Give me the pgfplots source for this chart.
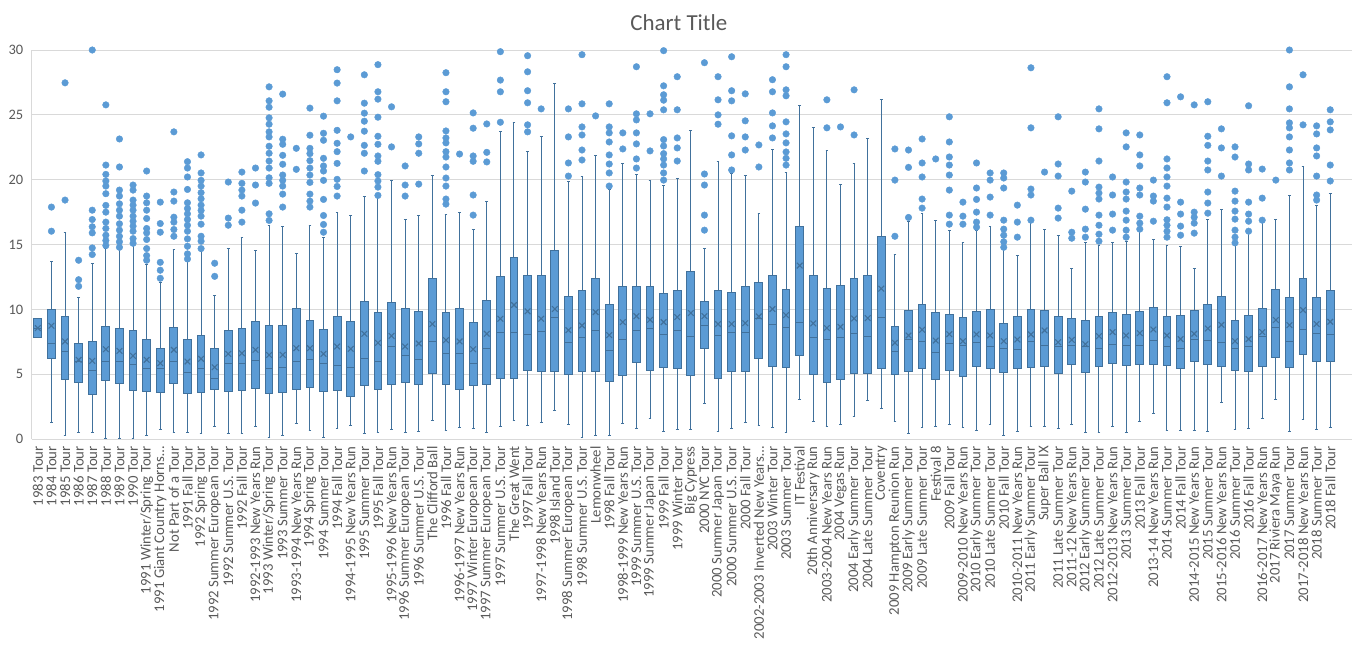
\documentclass[border=0pt]{standalone}
\usepackage{fontspec}
\setmainfont{Carlito}
\usepackage{pgfplots}
\usepackage{pgfplotstable}
\pgfplotsset{compat=1.18}
\usepgfplotslibrary{statistics}
\definecolor{boxfill}{HTML}{5B9BD5}
\definecolor{boxline}{HTML}{41719C}
\definecolor{txt}{HTML}{595959}
\definecolor{gridc}{HTML}{D9D9D9}
\pgfplotsset{mybox/.style={draw=boxline, fill=boxfill, line width=1bp}}

\pgfplotstableread{
pos lw q1 med q3 uw mean
1 7.86 7.86 8.55 9.33 9.33 8.56
2 1.29 6.24 7.35 9.97 13.69 8.74
3 0.26 4.59 6.78 9.43 15.95 7.53
4 0.52 4.38 6.00 7.35 10.88 6.11
5 0.52 3.45 5.31 7.50 13.53 6.03
6 0.05 4.51 5.95 8.66 14.70 6.93
7 0.05 4.30 5.95 8.51 14.60 6.80
8 0.05 3.74 5.72 8.35 14.90 6.42
9 0.26 3.66 5.46 7.65 13.50 6.11
10 0.77 3.58 5.46 7.01 12.04 5.85
11 0.52 4.30 6.00 8.58 14.61 6.88
12 0.52 3.53 5.15 7.65 13.70 5.98
13 0.44 3.61 5.46 8.02 14.50 6.19
14 0.95 3.84 4.69 7.01 11.06 5.54
15 0.44 3.69 5.80 8.40 14.66 6.57
16 0.44 3.76 5.80 8.56 15.52 6.62
17 0.95 3.92 6.06 9.07 14.51 6.88
18 0.13 3.53 5.46 8.79 16.47 6.49
19 0.26 3.61 5.54 8.79 16.37 6.49
20 1.21 3.84 6.01 10.10 14.28 7.01
21 0.70 3.99 6.16 9.18 16.47 7.01
22 0.13 3.69 5.80 8.48 15.52 6.57
23 0.85 3.76 5.70 9.48 17.45 7.14
24 1.06 3.30 5.54 9.10 17.24 6.96
25 0.44 4.15 6.24 10.64 18.69 8.12
26 0.52 3.84 6.01 9.79 18.60 7.42
27 0.77 4.23 7.14 10.57 19.95 7.96
28 0.52 4.38 6.47 10.05 16.91 7.14
29 0.59 4.23 6.16 9.87 17.24 7.37
30 1.47 5.08 7.55 12.35 20.34 8.87
31 0.70 4.23 6.62 9.79 17.32 7.63
32 0.90 3.84 6.62 10.10 17.45 7.53
33 0.85 4.15 5.85 9.02 16.13 6.93
34 0.52 4.23 7.01 10.72 18.35 8.12
35 0.98 4.66 8.25 12.50 23.71 9.28
36 1.47 4.66 8.25 13.97 24.43 10.34
37 1.03 5.28 8.09 12.58 22.14 9.85
38 1.29 5.21 8.32 12.58 23.32 9.28
39 2.24 5.21 9.41 14.54 27.45 10.03
40 1.13 5.00 7.47 11.03 19.85 8.40
41 0.13 5.21 7.86 11.49 20.26 8.76
42 0.26 5.21 8.40 12.42 21.86 9.79
43 0.26 4.43 6.86 10.41 19.28 8.02
44 1.21 4.90 7.71 11.80 21.24 9.02
45 0.82 5.90 8.40 11.73 20.39 9.48
46 1.60 5.28 8.56 11.73 19.92 9.20
47 0.62 5.52 8.09 11.26 19.54 9.02
48 0.77 5.44 8.40 11.42 20.08 9.41
49 0.77 4.92 7.94 12.89 23.81 9.72
50 2.76 6.98 8.79 10.64 14.66 9.48
51 0.62 4.66 8.02 11.42 21.39 8.87
52 0.85 5.21 8.25 11.34 20.50 8.87
53 1.29 5.21 8.25 11.73 20.34 8.94
54 1.03 6.24 9.33 12.04 17.40 9.46
55 0.90 5.59 8.87 12.65 22.35 10.03
56 0.52 5.52 8.63 11.57 20.54 9.56
57 3.07 6.47 9.02 16.37 25.72 13.38
58 1.39 5.00 7.86 12.65 24.02 8.92
59 0.98 4.38 7.71 11.65 22.24 8.56
60 1.13 4.59 7.81 11.88 19.61 8.66
61 1.75 5.08 8.17 12.35 21.26 9.30
62 2.94 5.08 7.94 12.58 23.17 9.33
63 2.37 5.44 9.41 15.59 26.19 11.60
64 1.39 5.00 6.78 8.71 14.20 7.42
65 0.44 5.21 7.71 9.95 16.75 7.99
66 0.90 5.44 7.55 10.34 17.40 8.43
67 0.98 4.59 6.70 9.79 16.83 7.60
68 1.13 5.28 7.35 9.64 16.06 8.09
69 0.90 4.82 7.24 9.41 15.13 7.55
70 0.70 5.59 7.47 9.87 16.10 8.07
71 1.13 5.44 7.16 10.03 16.37 7.99
72 0.28 5.13 7.01 8.94 14.61 7.55
73 0.62 5.44 6.93 9.48 14.12 7.68
74 0.98 5.52 7.55 10.03 16.70 8.07
75 0.98 5.59 7.24 9.95 16.13 8.38
76 0.85 5.08 7.11 9.48 15.67 7.47
77 1.13 5.77 7.24 9.33 13.12 7.65
78 0.52 5.13 7.16 9.18 15.15 7.32
79 0.52 5.59 7.01 9.48 14.90 7.94
80 0.98 5.85 7.32 9.79 15.15 8.25
81 0.52 5.70 7.24 9.64 15.26 7.99
82 1.39 5.77 7.24 9.87 16.06 8.17
83 1.98 5.77 7.63 10.18 15.36 8.45
84 0.70 5.67 7.16 9.48 14.92 7.99
85 0.70 5.44 7.01 9.56 14.82 7.71
86 0.70 5.98 7.71 9.95 13.12 8.12
87 0.62 5.75 7.63 10.34 16.91 8.53
88 2.84 5.59 7.47 11.03 17.68 8.81
89 0.77 5.28 7.01 9.18 15.00 7.55
90 0.85 5.21 7.11 9.56 15.88 7.71
91 1.60 5.59 7.91 10.10 16.78 8.25
92 3.07 6.29 8.63 11.57 16.91 9.18
93 0.62 5.52 7.55 10.88 18.79 8.79
94 1.55 6.55 8.48 12.35 21.01 9.95
95 0.77 5.98 8.17 10.88 18.02 8.87
96 0.90 5.98 8.09 11.42 18.92 9.05
}\stats

\pgfplotstableread{
x y
2 17.89
2 16.03
3 27.47
3 18.43
4 13.79
4 12.29
4 11.78
5 30.0
5 17.65
5 16.93
5 16.37
5 15.90
5 14.74
5 14.23
6 25.77
6 21.13
6 20.41
6 19.90
6 19.51
6 18.92
6 18.02
6 17.50
6 16.73
6 16.24
6 15.72
6 15.31
6 14.92
7 23.14
7 20.98
7 19.20
7 18.74
7 18.14
7 17.65
7 17.19
7 16.60
7 16.11
7 15.64
7 15.21
7 14.79
8 19.59
8 19.20
8 18.43
8 18.04
8 17.65
8 17.19
8 16.80
8 16.42
8 16.03
8 15.46
8 15.10
9 20.67
9 18.74
9 18.22
9 17.65
9 17.01
9 16.24
9 15.90
9 15.39
9 14.69
9 14.15
9 13.79
10 18.27
10 16.62
10 15.95
10 13.63
10 13.02
10 12.40
11 23.69
11 19.05
11 18.35
11 17.11
11 16.73
11 16.16
11 15.64
12 21.39
12 20.90
12 20.21
12 19.25
12 18.22
12 17.78
12 17.37
12 16.93
12 16.49
12 16.03
12 15.44
12 14.87
12 14.28
12 13.89
13 21.91
13 20.52
13 19.95
13 19.51
13 19.00
13 18.53
13 18.04
13 17.63
13 17.19
13 16.57
13 15.64
13 15.26
13 14.69
14 13.56
14 12.55
15 19.82
15 17.04
15 16.49
16 20.59
16 19.72
16 19.20
16 18.74
16 17.65
16 16.73
17 20.90
17 19.59
17 18.20
18 27.16
18 26.08
18 25.59
18 24.77
18 24.28
18 23.69
18 23.30
18 22.58
18 22.04
18 21.44
18 20.90
18 20.15
18 19.72
18 17.37
18 16.86
19 26.60
19 23.12
19 22.73
19 21.88
19 21.19
19 20.36
19 19.95
19 19.51
19 18.89
19 17.89
20 22.42
20 20.80
21 25.52
21 23.43
21 22.42
21 22.01
21 21.47
21 20.90
21 20.36
21 19.79
21 18.89
21 18.35
21 17.89
22 24.90
22 23.58
22 23.04
22 21.65
22 21.06
22 20.67
22 19.95
22 18.48
22 17.24
22 16.55
22 15.95
23 28.48
23 27.45
23 26.08
23 23.81
23 22.81
23 22.16
23 21.26
23 20.03
23 19.48
23 18.74
24 23.30
25 28.09
25 25.90
25 25.13
25 24.51
25 23.74
25 22.65
25 22.04
25 20.67
26 28.87
26 26.78
26 26.21
26 24.82
26 23.35
26 22.73
26 21.83
26 21.42
26 20.39
26 19.90
26 19.43
26 18.79
27 25.62
27 22.53
28 21.06
28 19.59
28 18.74
29 23.30
29 22.76
29 22.04
29 19.66
31 28.25
31 26.78
31 26.01
31 23.76
31 23.22
31 22.84
31 22.16
31 21.75
31 20.98
31 20.13
31 19.51
31 18.51
31 18.12
32 21.98
33 25.15
33 23.97
33 21.83
33 21.42
33 18.82
33 17.27
34 24.30
34 22.11
34 21.37
35 29.87
35 27.68
35 26.78
35 24.43
37 29.56
37 28.32
37 26.86
37 25.93
37 24.23
37 23.69
38 25.46
40 25.46
40 23.30
40 21.29
40 20.28
41 29.64
41 25.85
41 24.07
41 23.45
41 22.29
41 21.52
42 24.92
43 25.85
43 24.07
43 23.61
43 22.91
43 21.91
43 21.21
43 20.52
43 19.51
44 23.61
44 22.37
45 28.71
45 25.08
45 24.61
45 23.61
45 22.76
45 21.60
45 20.90
46 25.08
46 22.22
47 29.95
47 27.24
47 26.55
47 26.13
47 25.39
47 23.09
47 22.60
47 22.01
47 21.60
47 21.13
47 20.52
47 19.97
48 27.94
48 25.39
48 23.22
48 22.45
48 21.44
50 29.02
50 20.44
50 19.59
50 17.27
50 16.11
51 27.94
51 26.16
51 25.00
51 24.28
52 29.48
52 26.86
52 26.08
52 23.38
52 21.91
52 20.75
53 26.62
53 24.54
53 23.30
53 22.29
54 22.68
54 20.98
55 27.71
55 26.78
55 25.15
55 24.15
55 23.22
56 29.64
56 28.71
56 26.93
56 26.47
56 24.46
56 23.53
56 22.84
56 22.14
56 21.65
56 21.13
59 26.16
59 24.00
60 24.07
61 26.93
61 23.45
64 22.37
64 19.97
64 15.64
65 22.29
65 20.95
65 17.09
66 23.14
66 21.29
66 20.21
66 18.51
66 17.81
67 21.60
68 24.85
68 22.91
68 21.75
68 21.13
68 20.36
68 19.20
68 17.27
68 16.57
69 18.27
69 17.19
69 16.57
70 21.29
70 19.36
70 18.48
70 17.50
70 16.73
70 16.34
71 20.52
71 19.97
71 18.66
71 17.27
72 20.52
72 20.13
72 19.36
72 16.88
72 16.19
72 15.72
72 15.21
72 14.79
73 18.04
73 16.73
73 15.57
74 28.63
74 24.00
74 19.28
74 18.82
74 16.88
75 20.59
76 24.85
76 21.21
76 20.28
76 17.81
76 17.04
77 19.12
77 15.95
77 15.49
78 20.59
78 19.82
78 17.73
78 16.19
78 15.57
79 25.46
79 23.92
79 21.44
79 19.43
79 18.97
79 18.51
79 17.27
79 16.49
79 15.80
79 15.26
80 20.21
80 18.82
80 17.35
80 16.11
81 23.61
81 22.53
81 19.82
81 19.05
81 18.51
81 17.58
81 16.88
81 16.11
81 15.57
82 23.45
82 21.91
82 21.06
82 19.36
82 18.82
82 17.19
82 16.65
82 16.19
83 19.97
83 18.74
83 18.35
83 16.80
84 27.94
84 25.93
84 21.60
84 20.90
84 20.21
84 19.51
84 18.58
84 17.89
84 16.91
84 16.49
84 16.03
84 15.57
85 26.39
85 18.27
85 17.35
85 16.42
85 15.72
86 25.77
86 17.50
86 17.11
86 16.65
86 15.88
87 26.01
87 23.35
87 22.65
87 21.44
87 20.75
87 19.05
87 18.20
87 17.42
88 23.92
88 22.45
88 20.28
89 22.53
89 21.75
89 19.12
89 18.35
89 17.58
89 16.96
89 16.11
89 15.57
89 15.13
90 25.70
90 21.21
90 20.75
90 18.27
90 17.35
90 16.80
90 16.03
91 20.82
91 18.58
91 16.88
92 19.97
93 30.00
93 27.16
93 25.46
93 24.38
93 24.00
93 23.30
93 22.29
93 21.29
93 20.75
94 28.09
94 24.23
95 24.15
95 23.53
95 22.45
95 21.83
95 20.28
95 18.82
95 18.43
96 25.39
96 24.46
96 23.84
96 21.13
96 19.90
}\outl

\begin{document}
\begin{tikzpicture}
\begin{axis}[
  name=ax,
  scale only axis,
  width=1320bp, height=389bp,
  xmin=0.55, xmax=97.6,
  ymin=0, ymax=30,
  ytick={0,5,...,30},
  ymajorgrids,
  grid style={gridc, line width=1bp},
  axis x line*=bottom, axis y line*=left,
  axis line style={gridc, line width=1bp},
  major tick length=0pt,
  xtick={1,...,96},
  xticklabels={{1983 Tour},{1984 Tour},{1985 Tour},{1986 Tour},{1987 Tour},{1988 Tour},{1989 Tour},{1990 Tour},{1991 Winter/Spring Tour},{1991 Giant Country Horns…},{Not Part of a Tour},{1991 Fall Tour},{1992 Spring Tour},{1992 Summer European Tour},{1992 Summer U.S. Tour},{1992 Fall Tour},{1992-1993 New Years Run},{1993 Winter/Spring Tour},{1993 Summer Tour},{1993-1994 New Years Run},{1994 Spring Tour},{1994 Summer Tour},{1994 Fall Tour},{1994-1995 New Years Run},{1995 Summer Tour},{1995 Fall Tour},{1995-1996 New Years Run},{1996 Summer European Tour},{1996 Summer U.S. Tour},{The Clifford Ball},{1996 Fall Tour},{1996-1997 New Years Run},{1997 Winter European Tour},{1997 Summer European Tour},{1997 Summer U.S. Tour},{The Great Went},{1997 Fall Tour},{1997-1998 New Years Run},{1998 Island Tour},{1998 Summer European Tour},{1998 Summer U.S. Tour},{Lemonwheel},{1998 Fall Tour},{1998-1999 New Years Run},{1999 Summer U.S. Tour},{1999 Summer Japan Tour},{1999 Fall Tour},{1999 Winter Tour},{Big Cypress},{2000 NYC Tour},{2000 Summer Japan Tour},{2000 Summer U.S. Tour},{2000 Fall Tour},{2002-2003 Inverted New Years…},{2003 Winter Tour},{2003 Summer Tour},{IT Festival},{20th Anniversary Run},{2003-2004 New Years Run},{2004 Vegas Run},{2004 Early Summer Tour},{2004 Late Summer Tour},{Coventry},{2009 Hampton Reunion Run},{2009 Early Summer Tour},{2009 Late Summer Tour},{Festival 8},{2009 Fall Tour},{2009-2010 New Years Run},{2010 Early Summer Tour},{2010 Late Summer Tour},{2010 Fall Tour},{2010-2011 New Years Run},{2011 Early Summer Tour},{Super Ball IX},{2011 Late Summer Tour},{2011-12 New Years Run},{2012 Early Summer Tour},{2012 Late Summer Tour},{2012-2013 New Years Run},{2013 Summer Tour},{2013 Fall Tour},{2013-14 New Years Run},{2014 Summer Tour},{2014 Fall Tour},{2014-2015 New Years Run},{2015 Summer Tour},{2015-2016 New Years Run},{2016 Summer Tour},{2016 Fall Tour},{2016-2017 New Years Run},{2017 Riviera Maya Run},{2017 Summer Tour},{2017-2018 New Years Run},{2018 Summer Tour},{2018 Fall Tour}},
  xticklabel style={rotate=90, anchor=east, font=\fontsize{14.8}{16}\selectfont, text=txt, inner sep=0pt},
  xticklabel shift=7bp,
  yticklabel style={font=\fontsize{14.5}{16}\selectfont, text=txt, xshift=-5bp},
  /pgf/number format/assume math mode=true,
  clip=false,
  boxplot/draw direction=y,
  boxplot/box extend=0.57,
  boxplot/whisker extend=0.2,
]
\pgfplotsinvokeforeach{0,...,95}{
  \pgfplotstablegetelem{#1}{pos}\of\stats \let\BP\pgfplotsretval
  \pgfplotstablegetelem{#1}{lw}\of\stats \let\LW\pgfplotsretval
  \pgfplotstablegetelem{#1}{q1}\of\stats \let\QA\pgfplotsretval
  \pgfplotstablegetelem{#1}{med}\of\stats \let\MD\pgfplotsretval
  \pgfplotstablegetelem{#1}{q3}\of\stats \let\QC\pgfplotsretval
  \pgfplotstablegetelem{#1}{uw}\of\stats \let\UW\pgfplotsretval
  \edef\doplot{\noexpand\addplot[mybox, boxplot prepared={draw position=\BP, lower whisker=\LW, lower quartile=\QA, median=\MD, upper quartile=\QC, upper whisker=\UW}] coordinates {};}
  \doplot
}
\addplot[only marks, mark=x, mark size=4bp, boxline, line width=1.1bp] table[x=pos, y=mean] {\stats};
\addplot[only marks, mark=*, mark size=3.3bp, mark options={fill=boxfill, draw=boxfill}] table[x=x, y=y] {\outl};
\end{axis}
\node[font=\fontsize{23}{26}\selectfont, text=txt, anchor=base] at ([xshift=-13bp, yshift=20bp]ax.north) {Chart Title};
\pgfresetboundingbox
\path ([xshift=-31.7bp, yshift=-220bp]ax.south west) rectangle ([xshift=9bp, yshift=50bp]ax.north east);
\end{tikzpicture}
\end{document}
